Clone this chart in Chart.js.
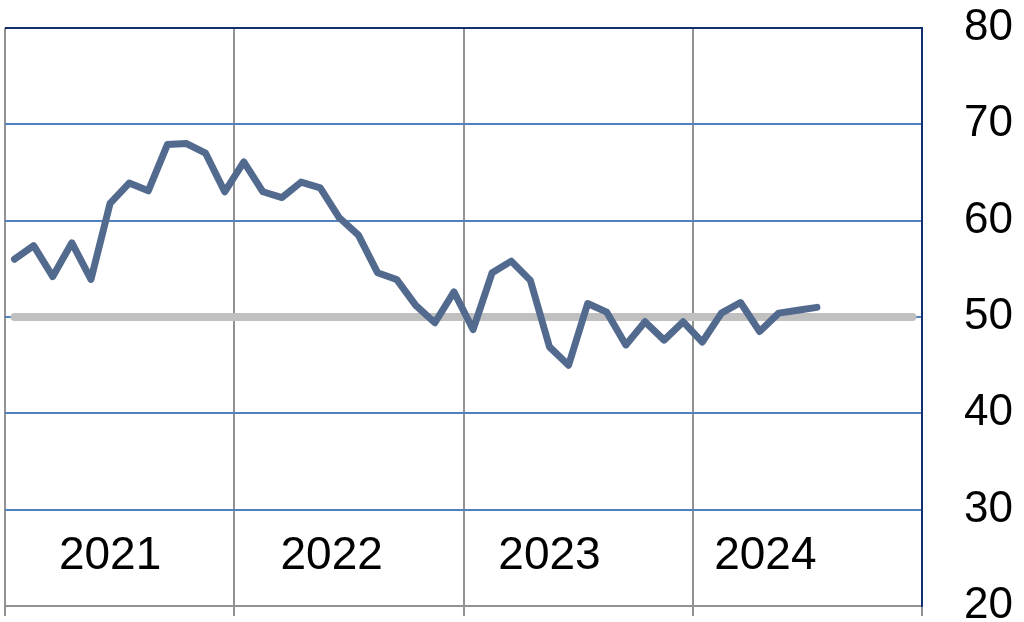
<!DOCTYPE html>
<html>
<head>
<meta charset="utf-8">
<script src="https://cdn.jsdelivr.net/npm/chart.js@4/dist/chart.umd.min.js"></script>
<style>
  html, body { margin: 0; padding: 0; background: #fff; overflow: hidden; }
  #wrap { width: 1024px; height: 640px; }
</style>
</head>
<body>
<div id="wrap"><canvas id="chart"></canvas></div>
<script>
// year labels and where they sit (in months from Jan 2021)
var years = ['2021', '2022', '2023', '2024']
var yearLabelPos = [5.5, 17.1, 28.5, 39.8]
// monthly index, Jan 2021 .. Jul 2024
var indexValues = [
    56.0, 57.4, 54.2, 57.7, 53.9, 61.8, 63.9, 63.1, 67.9, 68.0, 67.0, 63.0,
    66.1, 63.0, 62.4, 64.0, 63.4, 60.3, 58.5, 54.6, 53.9, 51.2, 49.4, 52.6,
    48.7, 54.6, 55.8, 53.8, 46.9, 45.0, 51.4, 50.5, 47.1, 49.5, 47.6, 49.5,
    47.4, 50.4, 51.5, 48.5, 50.4, 50.7, 51.0
]
var threshold = 50
var monthCount = 48
var yTicks = [20, 30, 40, 50, 60, 70, 80]

var lineData = indexValues.map((v, i) => ({ x: i + 0.5, y: v }))
var threshData = []
for (let i = 0; i < monthCount; i++) threshData.push({ x: i + 0.5, y: threshold })

var yearLabels = {
    id: 'yearLabels',
    afterDatasetsDraw(chart) {
        let ctx = chart.ctx
        let xs = chart.scales.x
        ctx.save()
        ctx.font = '46px "Liberation Sans", Arial, sans-serif'
        ctx.fillStyle = '#000'
        ctx.textAlign = 'center'
        ctx.textBaseline = 'middle'
        years.forEach((y, i) => {
            ctx.fillText(y, xs.getPixelForValue(yearLabelPos[i]), 556)
        })
        ctx.restore()
    }
}

var ctx = document.getElementById('chart')
var myChart = new Chart(ctx, {
    type: 'line',
    data: {
        datasets: [{
            data: lineData,
            borderColor: '#536a8f',
            borderWidth: 7,
            borderJoinStyle: 'round',
            borderCapStyle: 'round',
            pointRadius: 0,
            tension: 0,
            order: 0
        }, {
            data: threshData,
            borderColor: '#c0c0c0',
            borderWidth: 8,
            borderCapStyle: 'round',
            pointRadius: 0,
            order: 1
        }]
    },
    plugins: [yearLabels],
    options: {
        responsive: true,
        maintainAspectRatio: false,
        animation: false,
        layout: { padding: { left: 5, right: 11, top: 28, bottom: 24 } },
        plugins: { legend: { display: false }, tooltip: { enabled: false } },
        scales: {
            x: {
                type: 'linear',
                min: 0,
                max: monthCount,
                afterBuildTicks: (axis) => {
                    axis.ticks = [0, 12, 24, 36, 48].map(v => ({ value: v }))
                },
                ticks: { display: false },
                grid: { color: '#929292', lineWidth: 2, tickLength: 10 },
                border: { color: '#929292', width: 2 }
            },
            y: {
                position: 'right',
                min: 20,
                max: 80,
                afterBuildTicks: (axis) => {
                    axis.ticks = yTicks.map(v => ({ value: v }))
                },
                afterFit: (axis) => {
                    axis.width = 91
                    axis.paddingTop = 0
                    axis.paddingBottom = 0
                },
                ticks: {
                    color: '#000',
                    padding: 42,
                    font: { family: '"Liberation Sans", Arial, sans-serif', size: 44 }
                },
                grid: {
                    drawTicks: false,
                    lineWidth: 2,
                    color: (c) => {
                        if (c.tick && c.tick.value === 80) return '#13306e'
                        if (c.tick && c.tick.value === 20) return 'rgba(0,0,0,0)'
                        return '#4f81bd'
                    }
                },
                border: { color: '#13306e', width: 2 }
            }
        }
    }
})
</script>
</body>
</html>
